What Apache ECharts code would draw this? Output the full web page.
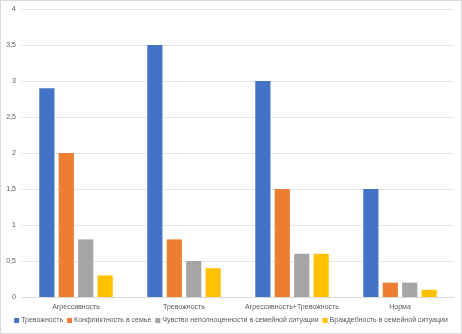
<!DOCTYPE html>
<html>
<head>
<meta charset="utf-8">
<script src="https://cdn.jsdelivr.net/npm/echarts@6/dist/echarts.min.js"></script>
<style>
  html, body { margin: 0; padding: 0; background: #fff; }
  #chart { width: 460px; height: 332px; border: 1px solid #d9d9d9; }
</style>
</head>
<body>
<div id="chart"></div>
<script>
// категории и ряды
var categories = ['Агрессивность', 'Тревожность', 'Агрессивность+Тревожность', 'Норма'];
var seriesNames = [
    'Тревожность',
    'Конфликтность в семье',
    'Чувство неполноценности в семейной ситуации',
    'Враждебность в семейной ситуации'
];
var anxiety = [2.9, 3.5, 3.0, 1.5];
var conflict = [2.0, 0.8, 1.5, 0.2];
var inferiority = [0.8, 0.5, 0.6, 0.2];
var hostility = [0.3, 0.4, 0.6, 0.1];
var colors = ['#4472C4', '#ED7D31', '#A5A5A5', '#FFC000'];

var chart = echarts.init(document.getElementById('chart'));
var dataSets = [anxiety, conflict, inferiority, hostility];

var option = {
    animation: false,
    color: colors,
    textStyle: { fontFamily: 'Liberation Sans' },
    grid: { left: 21, right: 7, top: 8, bottom: 36 },
    legend: {
        bottom: 4,
        left: 'center',
        width: 450,
        itemWidth: 5,
        itemHeight: 5,
        itemGap: 4,
        icon: 'rect',
        textStyle: { fontSize: 7, color: '#595959', padding: [0, 0, 0, -3] },
        data: seriesNames
    },
    xAxis: {
        type: 'category',
        data: categories,
        axisTick: { show: false },
        axisLine: { lineStyle: { color: '#d9d9d9' } },
        axisLabel: { fontSize: 7, color: '#595959', margin: 7, interval: 0 }
    },
    yAxis: {
        type: 'value',
        min: 0,
        max: 4,
        interval: 0.5,
        axisLine: { show: false },
        axisTick: { show: false },
        splitLine: { lineStyle: { color: '#e6e6e6' } },
        axisLabel: {
            fontSize: 7,
            color: '#595959',
            margin: 6,
            formatter: function (v) { return String(v).replace('.', ','); }
        }
    },
    series: seriesNames.map(function (name, i) {
        return {
            name: name,
            type: 'bar',
            data: dataSets[i],
            barGap: '28%',
            barCategoryGap: '32%'
        };
    })
};

chart.setOption(option);
</script>
</body>
</html>
